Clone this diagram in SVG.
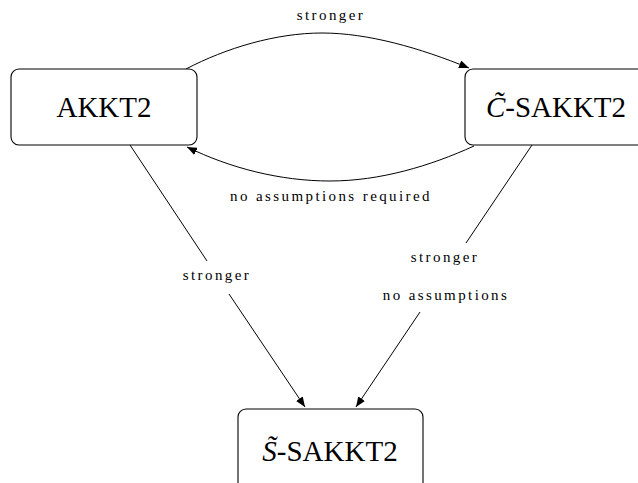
<svg xmlns="http://www.w3.org/2000/svg" width="638" height="483" viewBox="0 0 638 483">
<style>
.box{fill:#fff;stroke:#000;stroke-width:1.1}
.nl{font-family:"Liberation Serif",serif;font-size:29px;fill:#000;text-anchor:middle}
.el{font-family:"Liberation Serif",serif;font-size:15px;letter-spacing:2.4px;fill:#000;text-anchor:middle}
.c{fill:none;stroke:#000;stroke-width:1}
</style>
<defs>
<marker id="ah" viewBox="0 0 10 8" refX="10" refY="4" markerWidth="10" markerHeight="8" markerUnits="userSpaceOnUse" orient="auto">
<path d="M0,0 L10,4 L0,8 Z" fill="#000"/>
</marker>
</defs>
<rect width="638" height="483" fill="#fff"/>
<g id="connectors">
<path class="c" d="M186,69 C226,48 276,33 322,33 S420,48 469,68" marker-end="url(#ah)"/>
<path class="c" d="M474,146 C430,166 380,181 330,181 S230,168 187,147" marker-end="url(#ah)"/>
<path class="c" d="M130,145 L207,261"/>
<path class="c" d="M229,294 L305,407" marker-end="url(#ah)"/>
<path class="c" d="M532,145 L466,243"/>
<path class="c" d="M420,312 L356,407" marker-end="url(#ah)"/>
<text class="el" x="331" y="20">stronger</text>
<text class="el" x="331" y="201">no assumptions required</text>
<text class="el" x="217" y="280">stronger</text>
<text class="el" x="445" y="262">stronger</text>
<text class="el" x="446" y="300">no assumptions</text>
</g>
<g id="akkt2">
<rect class="box" x="11" y="69" width="186" height="76" rx="8"/>
<text class="nl" x="104" y="117">AKKT2</text>
</g>
<g id="csakkt2">
<rect class="box" x="465" y="69" width="190" height="76" rx="8"/>
<text class="nl" x="556" y="117"><tspan font-style="italic">C̃</tspan>-SAKKT2</text>
</g>
<g id="ssakkt2">
<rect class="box" x="238" y="409" width="185" height="90" rx="8"/>
<text class="nl" x="330" y="461"><tspan font-style="italic">S̃</tspan>-SAKKT2</text>
</g>
</svg>
